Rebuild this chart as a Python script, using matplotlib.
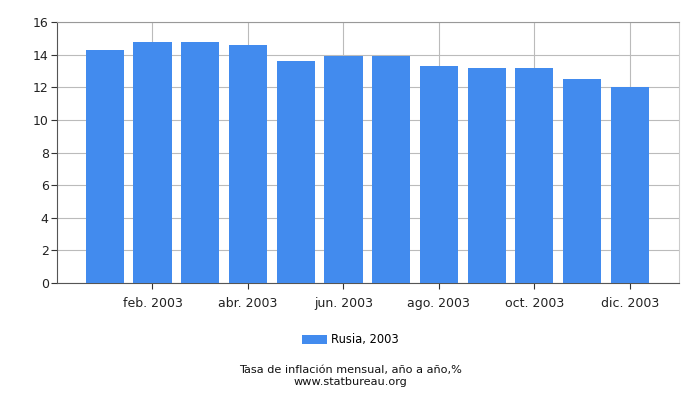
import matplotlib
matplotlib.use('Agg')
import matplotlib.pyplot as plt

# Data
months = ['ene. 2003', 'feb. 2003', 'mar. 2003', 'abr. 2003', 'may. 2003', 'jun. 2003',
          'jul. 2003', 'ago. 2003', 'sep. 2003', 'oct. 2003', 'nov. 2003', 'dic. 2003']
values = [14.3, 14.8, 14.8, 14.6, 13.6, 13.9, 13.9, 13.3, 13.2, 13.2, 12.5, 12.0]
yticks = [0, 2, 4, 6, 8, 10, 12, 14, 16]

plt.rcParams['font.family'] = 'DejaVu Sans'

fig = plt.figure(figsize=(7, 4), dpi=100)
ax = fig.add_axes([57 / 700, 1 - 283 / 400, 622 / 700, 261 / 400])

x = list(range(len(months)))
ax.bar(x, values, width=0.8, color='#428bee', zorder=3, label='Rusia, 2003')

ax.set_xlim(-1.0, 12.03)
ax.set_ylim(0, 16)
ax.set_yticks(yticks)
ax.set_yticklabels([str(t) for t in yticks], fontsize=9, color='#222222')

# label every second month
ax.set_xticks(x[1::2])
ax.set_xticklabels(months[1::2], fontsize=9, color='#222222')

ax.grid(True, color='#bbbbbb', linewidth=0.8, zorder=0)
ax.tick_params(axis='both', length=4, width=0.8, color='#333333', pad=2)
ax.tick_params(axis='x', pad=6)

ax.spines['top'].set_color('#999999')
ax.spines['right'].set_color('#cccccc')
ax.spines['left'].set_color('#555555')
ax.spines['bottom'].set_color('#555555')

leg = fig.legend(loc='center', bbox_to_anchor=(0.5, 1 - 340 / 400), frameon=False,
                 fontsize=8.3, handlelength=2.2, handleheight=0.9, handletextpad=0.3)

fig.text(0.5, 1 - 370 / 400, 'Tasa de inflación mensual, año a año,%', ha='center', va='center',
         fontsize=8.1, color='#111111')
fig.text(0.5, 1 - 382 / 400, 'www.statbureau.org', ha='center', va='center',
         fontsize=8.1, color='#111111')

fig.savefig('out.png', dpi=100)
